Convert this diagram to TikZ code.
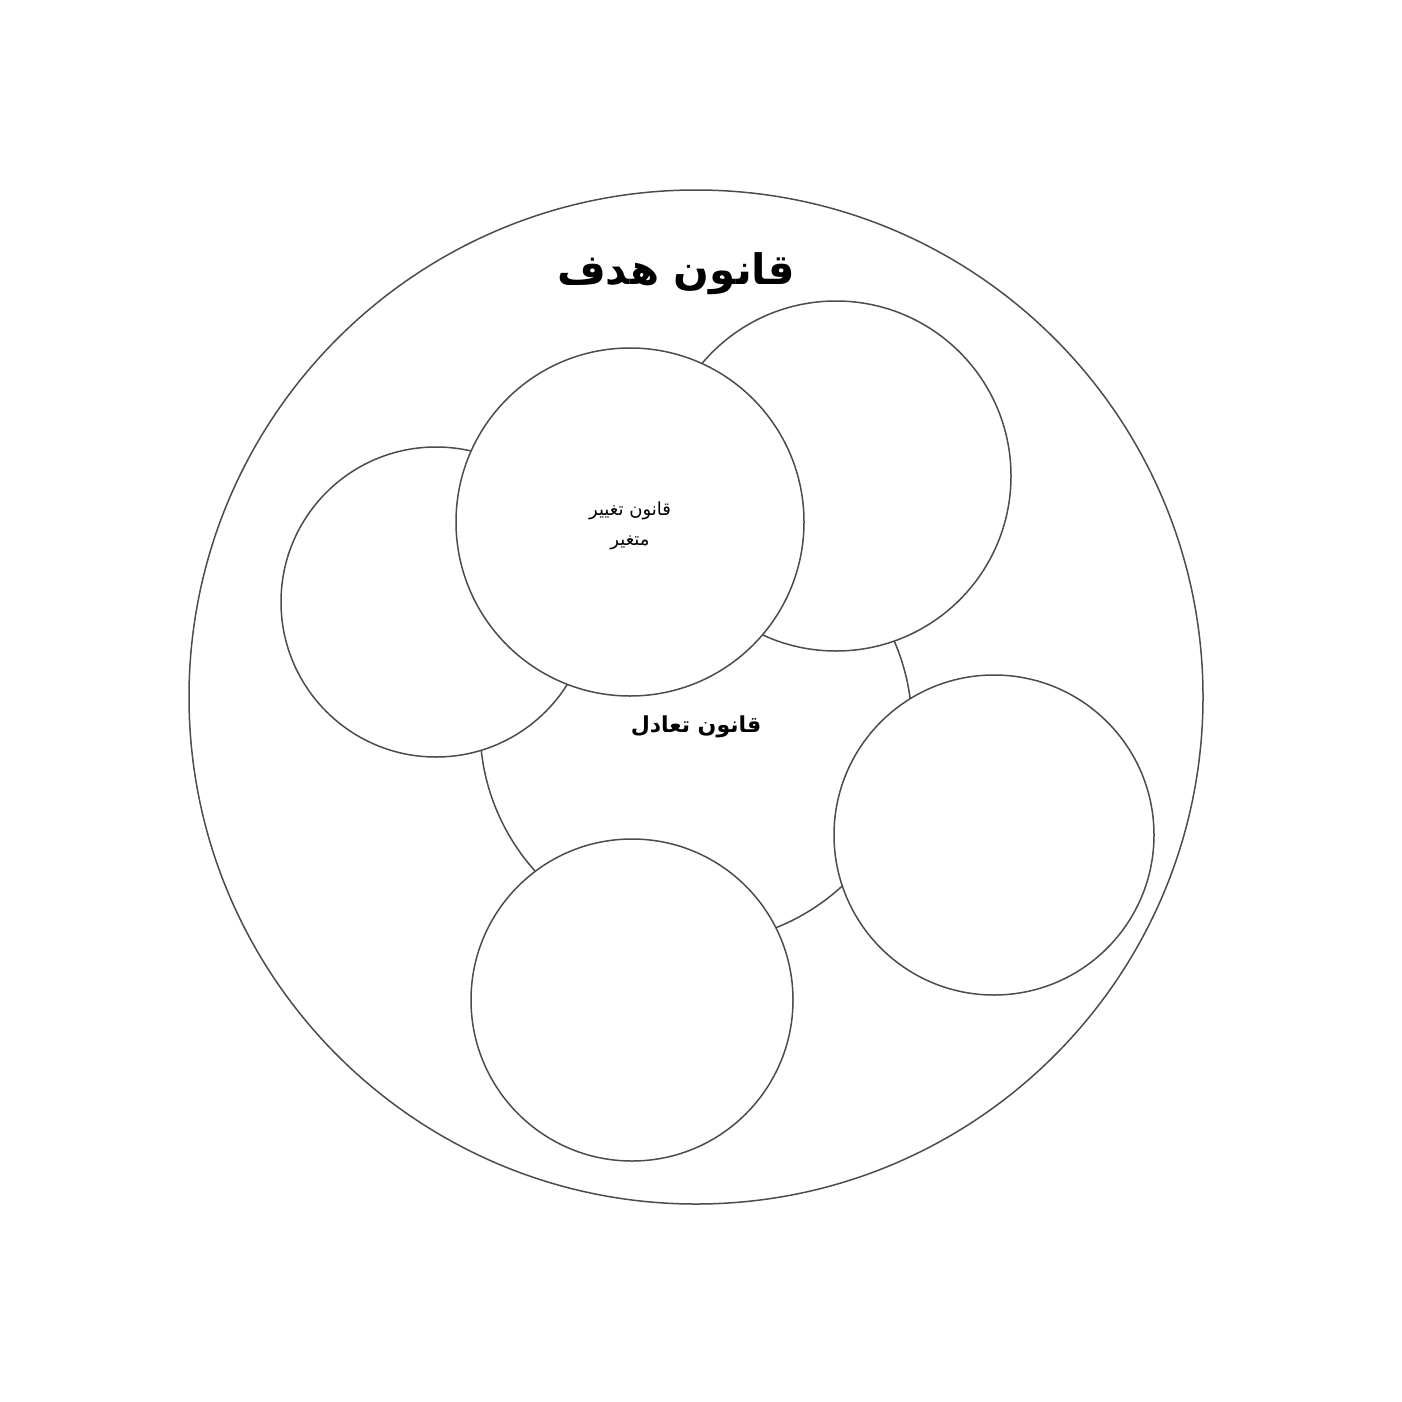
\documentclass[tikz,border=0pt]{standalone}
\usepackage{fontspec}
\newfontfamily\arabicfont[Script=Arabic]{DejaVu Sans}
\TeXXeTstate=1

\begin{document}
\begin{tikzpicture}[x=1pt,y=-1pt,
    law/.style={circle, draw=black!70, fill=white, line width=1.5pt, inner sep=0pt},
    lawtext/.style={font=\arabicfont, align=center}]
    \useasboundingbox (0,0) rectangle (1402,1402);
    \node [law, minimum size=1014pt] (goal) at (696,697) {};
    \node [lawtext, font=\arabicfont\bfseries\fontsize{42}{46}\selectfont] (goaltext) at (676,274) {\beginR قانون هدف\endR};
    \node [law, minimum size=432pt, lawtext, font=\arabicfont\bfseries\fontsize{22}{26}\selectfont] (balance) at (696,727) {\beginR قانون تعادل\endR};
    \node [law, minimum size=310pt] (left) at (436,602) {};
    \node [law, minimum size=350pt] (upper) at (836,476) {};
    \node [law, minimum size=348pt] (change) at (630,522) {};
    \node [lawtext, font=\arabicfont\fontsize{18}{30}\selectfont] (changetext) at (630,526)
        {\beginR قانون تغییر\endR\\\beginR متغیر\endR};
    \node [law, minimum size=320pt] (right) at (994,835) {};
    \node [law, minimum size=322pt] (bottom) at (632,1000) {};
\end{tikzpicture}
\end{document}
